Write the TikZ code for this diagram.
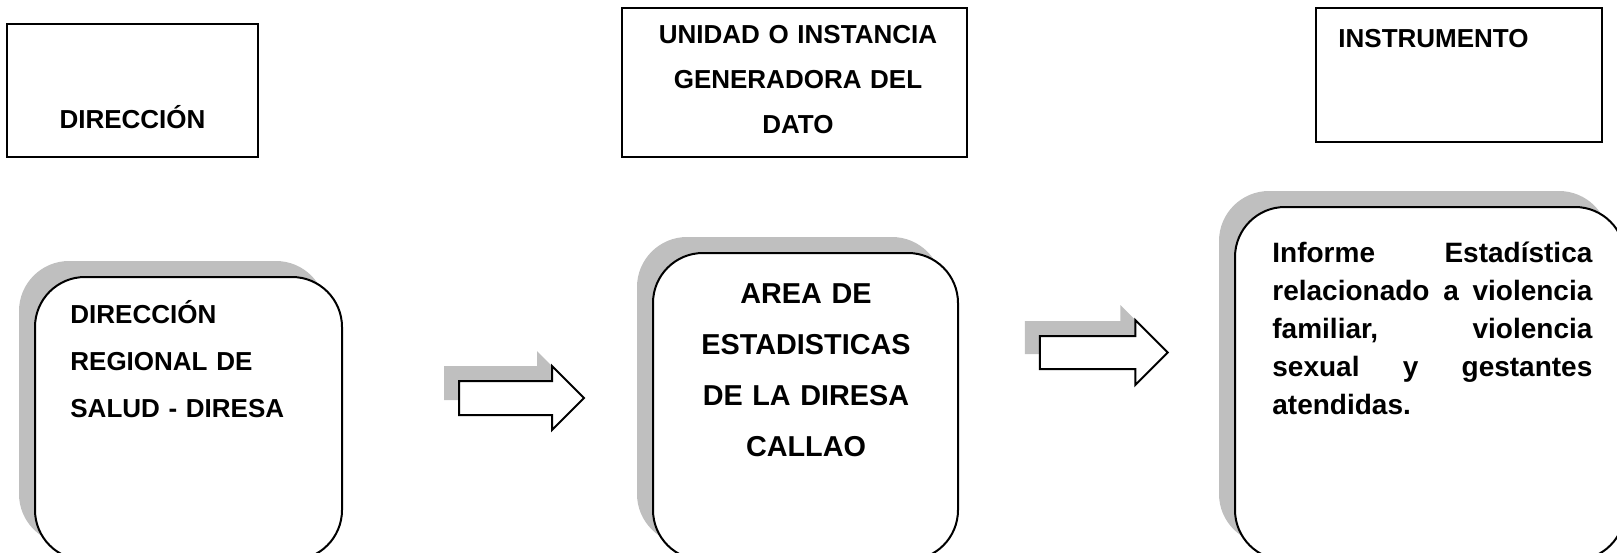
\documentclass[tikz,border=0pt]{standalone}
\usepackage{fontspec}
\setmainfont{Liberation Sans}
\usetikzlibrary{shapes.arrows, shadows}
\tikzset{
  encab/.style={draw, line width=1pt, inner sep=0pt},
  caja/.style={draw, line width=1pt, fill=white, rounded corners=25pt, inner sep=0pt,
    drop shadow={shadow xshift=-8pt, shadow yshift=8pt, fill=gray!50, opacity=1}},
  flecha/.style={single arrow, draw, line width=1pt, fill=white, inner xsep=0pt, inner ysep=8pt, single arrow head extend=7.5pt,
    drop shadow={shadow xshift=-7.5pt, shadow yshift=7.5pt, fill=gray!50, opacity=1}},
  etq/.style={inner sep=0pt}
}
\newcommand{\fs}[2]{\bfseries\fontsize{#1}{#2}\selectfont}

\begin{document}
\begin{tikzpicture}[x=0.5pt, y=-0.5pt]
		\useasboundingbox (0,0) rectangle (1617,552);
		\node[encab, minimum width=125.5pt, minimum height=66.5pt] (eDir) at (132.5,90.5) {};
		\node[encab, minimum width=172.5pt, minimum height=74.5pt] (eUni) at (794.5,82.5) {};
		\node[encab, minimum width=143pt, minimum height=67pt] (eIns) at (1459,75) {};
		\node[etq, anchor=base, font=\fs{13}{15.6}] (tDir) at (132.5,128) {DIRECCIÓN};
		\node[etq, anchor=base, text width=170pt, align=center, font=\fs{13}{22.5}] (tUni) at (798,43)
			{UNIDAD O INSTANCIA\\GENERADORA DEL\\DATO};
		\node[etq, anchor=base west, font=\fs{13}{15.6}] (tIns) at (1338,47) {INSTRUMENTO};
		\node[caja, minimum width=153.5pt, minimum height=141.5pt] (cDir) at (188.5,418.5) {};
		\node[caja, minimum width=152.5pt, minimum height=153.5pt] (cArea) at (805.5,406.5) {};
		\node[caja, minimum width=195pt, minimum height=176.5pt] (cInf) at (1430,383.5) {};
		\node[etq, anchor=base west, text width=140pt, align=left, font=\fs{13}{23.5}] (tDiresa) at (70,323)
			{DIRECCIÓN\\REGIONAL DE\\SALUD - DIRESA};
		\node[etq, anchor=base, text width=145pt, align=center, font=\fs{14.4}{25.5}] (tArea) at (806,303)
			{AREA DE\\ESTADISTICAS\\DE LA DIRESA\\CALLAO};
		\node[etq, anchor=base west, text width=160pt, align=left, font=\fs{14}{19.1}] (tInf) at (1272,262)
			{Informe\hfill Estadística\\relacionado\hfill a\hfill violencia\\familiar,\hfill violencia\\sexual\hfill y\hfill gestantes\\atendidas.};
		\node[flecha, minimum height=62.5pt] (f1) at (513,398) {};
		\node[flecha, minimum height=64pt, inner ysep=7.75pt, single arrow head extend=8pt] (f2) at (1095.5,352.5) {};
	\end{tikzpicture}
\end{document}
